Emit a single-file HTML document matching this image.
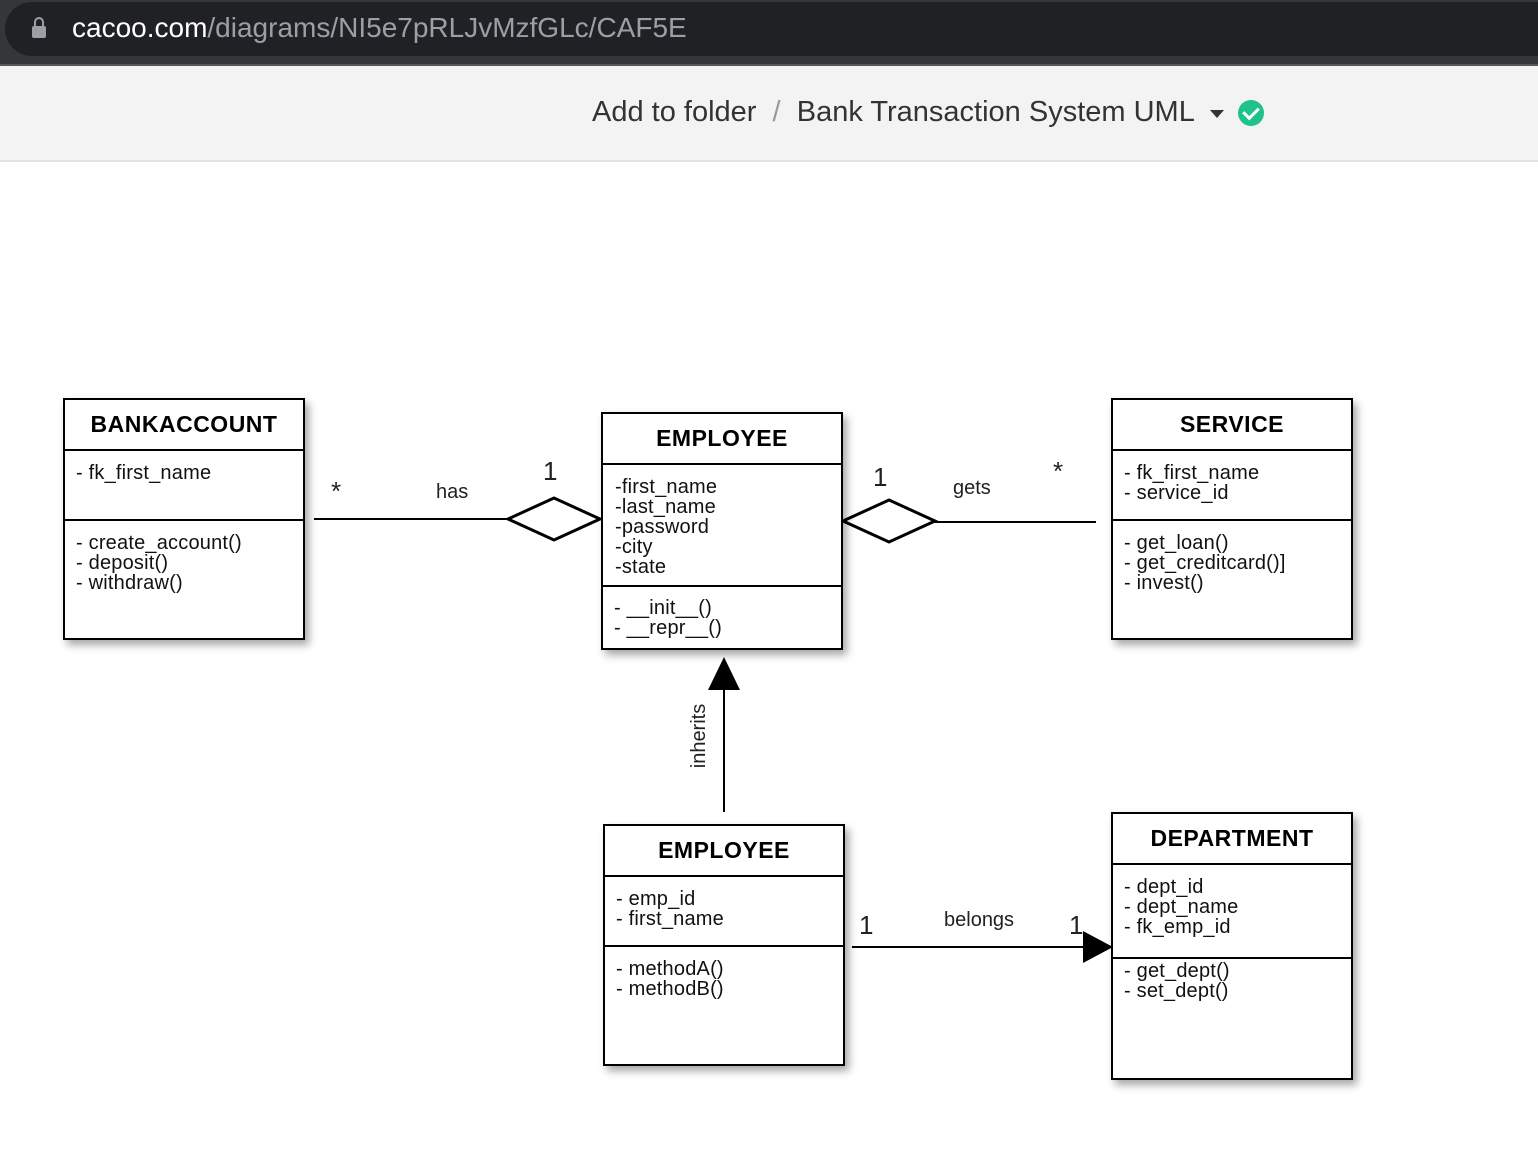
<!DOCTYPE html>
<html><head><meta charset="utf-8"><style>
body{margin:0;width:1538px;height:1154px;position:relative;background:#fff;font-family:"Liberation Sans",sans-serif;overflow:hidden}
.a{position:absolute}
.box{position:absolute;border:2px solid #000;background:#fff;box-shadow:4px 5px 8px rgba(0,0,0,.35);box-sizing:border-box}
.h{font-weight:bold;font-size:23px;text-align:center;border-bottom:2px solid #000;box-sizing:border-box;letter-spacing:.5px}
.s{font-size:20px;line-height:20px;padding-left:11px;box-sizing:border-box;color:#111;letter-spacing:.2px}
.l{position:absolute;font-size:20px;color:#222}
</style></head><body>
<div class="a" style="left:0;top:0;width:1538px;height:64px;background:#35363a"></div>
<div class="a" style="left:5px;top:2px;width:1560px;height:54px;background:#202124;border-radius:27px"></div>
<div class="a" style="left:0;top:64px;width:1538px;height:2px;background:#55575c"></div>
<div class="a" style="left:32px;top:26px;width:14px;height:12px;background:#9aa0a6;border-radius:2px"></div>
<div class="a" style="left:34px;top:17px;width:6px;height:10px;border:2px solid #9aa0a6;border-bottom:none;border-radius:5px 5px 0 0"></div>
<div class="a" style="left:72px;top:12px;font-size:28px;color:#fff">cacoo.com<span style="color:#9aa0a6">/diagrams/NI5e7pRLJvMzfGLc/CAF5E</span></div>
<div class="a" style="left:0;top:66px;width:1538px;height:94px;background:#f3f3f3;border-bottom:2px solid #e2e2e2"></div>
<div class="a" style="left:592px;top:96px;font-size:29px;color:#333">Add to folder <span style="color:#999">&nbsp;/&nbsp;</span> Bank Transaction System UML</div>
<div class="a" style="left:1210px;top:110px;width:0;height:0;border-left:7px solid transparent;border-right:7px solid transparent;border-top:8px solid #333"></div>
<div class="a" style="left:1238px;top:100px;width:26px;height:26px;border-radius:50%;background:#1fc28b"></div>
<div class="a" style="left:1246px;top:104px;width:7px;height:12px;border:solid #fff;border-width:0 3px 3px 0;transform:rotate(45deg)"></div>

<svg class="a" style="left:0;top:0" width="1538" height="1154">
<line x1="314" y1="519" x2="510" y2="519" stroke="#000" stroke-width="2"/>
<polygon points="508,519 554,498 600,519 554,540" fill="#fff" stroke="#000" stroke-width="3"/>
<line x1="933" y1="522" x2="1096" y2="522" stroke="#000" stroke-width="2"/>
<polygon points="843,521 889,500 935,521 889,542" fill="#fff" stroke="#000" stroke-width="3"/>
<line x1="724" y1="812" x2="724" y2="688" stroke="#000" stroke-width="2"/>
<polygon points="724,657 708,690 740,690" fill="#000"/>
<line x1="852" y1="947" x2="1086" y2="947" stroke="#000" stroke-width="2"/>
<polygon points="1113,947 1083,931 1083,963" fill="#000"/>
<text x="705" y="736" font-family="Liberation Sans" font-size="20" fill="#222" text-anchor="middle" transform="rotate(-90 705 736)">inherits</text>
</svg>
<div class="l" style="left:331px;top:476px;font-size:26px">*</div>
<div class="l" style="left:436px;top:481px">has</div>
<div class="l" style="left:543px;top:456px;font-size:26px">1</div>
<div class="l" style="left:873px;top:462px;font-size:26px">1</div>
<div class="l" style="left:953px;top:477px">gets</div>
<div class="l" style="left:1053px;top:456px;font-size:26px">*</div>
<div class="l" style="left:859px;top:910px;font-size:26px">1</div>
<div class="l" style="left:944px;top:909px">belongs</div>
<div class="l" style="left:1069px;top:910px;font-size:26px">1</div>

<div class="box" style="left:63px;top:398px;width:242px;height:242px">
<div class="h" style="height:51px;line-height:48px">BANKACCOUNT</div>
<div class="s" style="height:70px;border-bottom:2px solid #000;padding-top:12px">- fk_first_name</div>
<div class="s" style="padding-top:12px">- create_account()<br>- deposit()<br>- withdraw()</div></div>

<div class="box" style="left:601px;top:412px;width:242px;height:238px">
<div class="h" style="height:51px;line-height:48px">EMPLOYEE</div>
<div class="s" style="height:122px;border-bottom:2px solid #000;padding-top:12px;padding-left:12px">-first_name<br>-last_name<br>-password<br>-city<br>-state</div>
<div class="s" style="padding-top:11px">- __init__()<br>- __repr__()</div></div>

<div class="box" style="left:1111px;top:398px;width:242px;height:242px">
<div class="h" style="height:51px;line-height:48px">SERVICE</div>
<div class="s" style="height:70px;border-bottom:2px solid #000;padding-top:12px">- fk_first_name<br>- service_id</div>
<div class="s" style="padding-top:12px">- get_loan()<br>- get_creditcard()]<br>- invest()</div></div>

<div class="box" style="left:603px;top:824px;width:242px;height:242px">
<div class="h" style="height:51px;line-height:48px">EMPLOYEE</div>
<div class="s" style="height:70px;border-bottom:2px solid #000;padding-top:12px">- emp_id<br>- first_name</div>
<div class="s" style="padding-top:12px">- methodA()<br>- methodB()</div></div>

<div class="box" style="left:1111px;top:812px;width:242px;height:268px">
<div class="h" style="height:51px;line-height:48px">DEPARTMENT</div>
<div class="s" style="height:94px;border-bottom:2px solid #000;padding-top:12px">- dept_id<br>- dept_name<br>- fk_emp_id</div>
<div class="s" style="padding-top:2px">- get_dept()<br>- set_dept()</div></div>
</body></html>
